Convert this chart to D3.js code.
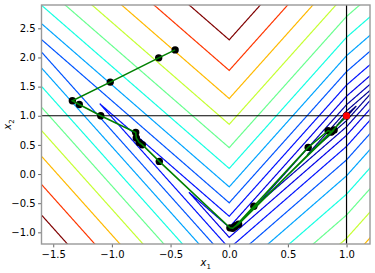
<!DOCTYPE html>
<html><head><meta charset="utf-8">
<script src="https://cdn.jsdelivr.net/npm/d3@7/dist/d3.min.js"></script>
<style>
html,body{margin:0;padding:0;background:#fff;}
svg{display:block;font-family:"DejaVu Sans",sans-serif;}
</style></head>
<body><svg id="chart" width="375" height="273"></svg>
<script>
// ---- data ----
const xTicks = [-1.5, -1.0, -0.5, 0.0, 0.5, 1.0];
const yTicks = [-1.0, -0.5, 0.0, 0.5, 1.0, 1.5, 2.0, 2.5];
const xDomain = [-1.6, 1.2];
const yDomain = [-1.2, 2.9];
// contour levels of f(x) = |1-x1|/4 + |x2 - 2|x1| + 1|
const levels = [0.021, 0.084, 0.189, 0.336, 0.526, 0.757, 1.030, 1.346, 1.703, 2.103, 2.545, 3.028, 3.553];
// optimisation iterates
const pathX = [-0.461, -0.601, -1.014, -1.337, -1.278, -1.095, -0.797, -0.792, -0.767, -0.741, -0.596, 0.006, 0.030, 0.060, 0.210, 0.673, 0.843, 0.872, 0.080, 0.050, 0.894, 0.870, 1.000];
const pathY = [2.130, 1.993, 1.577, 1.257, 1.194, 1.000, 0.714, 0.618, 0.543, 0.503, 0.217, -0.923, -0.930, -0.880, -0.553, 0.457, 0.743, 0.731, -0.860, -0.900, 0.755, 0.720, 1.000];
const minimizerX = [1.0];
const minimizerY = [1.0];
const refX = [1.0];
const refY = [1.0];

function f(x1, x2) { return Math.abs(1 - x1) / 4 + Math.abs(x2 - 2 * Math.abs(x1) + 1); }

// ---- layout ----
const L = 41.5, R = 370, T = 5, B = 244;
const svg = d3.select("#chart");
const x = d3.scaleLinear().domain(xDomain).range([L, R]);
const y = d3.scaleLinear().domain(yDomain).range([B, T]);

// jet colormap (matplotlib segments)
const jr = d3.scaleLinear().domain([0, 0.35, 0.66, 0.89, 1]).range([0, 0, 1, 1, 0.5]).clamp(true);
const jg = d3.scaleLinear().domain([0, 0.125, 0.375, 0.64, 0.91, 1]).range([0, 0, 1, 1, 0, 0]).clamp(true);
const jb = d3.scaleLinear().domain([0, 0.11, 0.34, 0.65, 1]).range([0.5, 1, 1, 0, 0]).clamp(true);
const norm = d3.scaleLinear().domain([levels[0], levels[levels.length - 1]]).range([0, 1]);
const jet = v => { const t = norm(v); return d3.rgb(jr(t) * 255, jg(t) * 255, jb(t) * 255).toString(); };

svg.append("defs").append("clipPath").attr("id", "clip")
  .append("rect").attr("x", L).attr("y", T).attr("width", R - L).attr("height", B - T);

// grid (extended beyond the view so borders fall outside the clip)
const step = 0.004;
const gx0 = xDomain[0] - 0.2, gx1 = xDomain[1] + 0.2;
const gyTop = yDomain[1] + 0.2, gyBot = yDomain[0] - 0.2;
const nx = Math.round((gx1 - gx0) / step) + 1;
const ny = Math.round((gyTop - gyBot) / step) + 1;
const values = new Float64Array(nx * ny);
for (let j = 0; j < ny; j++) {
  const yy = gyTop - j * step;
  for (let i = 0; i < nx; i++) values[j * nx + i] = f(gx0 + i * step, yy);
}
const contours = d3.contours().size([nx, ny]).thresholds(levels)(values);
const proj = d3.geoTransform({
  point(px, py) { this.stream.point(x(gx0 + (px - 0.5) * step), y(gyTop - (py - 0.5) * step)); }
});
const gpath = d3.geoPath(proj);

const plot = svg.append("g").attr("clip-path", "url(#clip)");
plot.selectAll("path.c").data(contours).join("path").attr("class", "c")
  .attr("d", gpath).attr("fill", "none")
  .attr("stroke", d => jet(d.value)).attr("stroke-width", 1.2);

// reference lines
plot.selectAll("line.rx").data(refX).join("line").attr("class", "rx")
  .attr("x1", d => x(d)).attr("x2", d => x(d)).attr("y1", T).attr("y2", B)
  .attr("stroke", "#000").attr("stroke-width", 1.2);
plot.selectAll("line.ry").data(refY).join("line").attr("class", "ry")
  .attr("x1", L).attr("x2", R).attr("y1", d => y(d)).attr("y2", d => y(d))
  .attr("stroke", "#000").attr("stroke-width", 1.2);

// path
const pts = pathX.map((v, i) => [v, pathY[i]]);
plot.selectAll("circle.m").data(pts).join("circle").attr("class", "m")
  .attr("cx", d => x(d[0])).attr("cy", d => y(d[1])).attr("r", 3.7).attr("fill", "#000");
plot.append("path").datum(pts)
  .attr("d", d3.line().x(d => x(d[0])).y(d => y(d[1])))
  .attr("fill", "none").attr("stroke", "#008000").attr("stroke-width", 1.6);
plot.selectAll("circle.min").data(minimizerX.map((v, i) => [v, minimizerY[i]])).join("circle").attr("class", "min")
  .attr("cx", d => x(d[0])).attr("cy", d => y(d[1])).attr("r", 3.6).attr("fill", "#ff0000");

// axes
const fmt = d3.format(".1f");
const xa = svg.append("g").attr("transform", `translate(0,${B})`)
  .call(d3.axisBottom(x).tickValues(xTicks).tickFormat(fmt).tickSize(3.4).tickSizeOuter(0).tickPadding(3));
const ya = svg.append("g").attr("transform", `translate(${L},0)`)
  .call(d3.axisLeft(y).tickValues(yTicks).tickFormat(fmt).tickSize(3.4).tickSizeOuter(0).tickPadding(2.5));
[xa, ya].forEach(a => {
  a.select(".domain").remove();
  a.selectAll(".tick line").attr("stroke", "#555").attr("stroke-width", 0.9);
  a.selectAll(".tick text").attr("fill", "#000").style("font-size", "10px").style("font-family", "DejaVu Sans");
});

svg.append("rect").attr("x", L).attr("y", T).attr("width", R - L).attr("height", B - T)
  .attr("fill", "none").attr("stroke", "#999").attr("stroke-width", 1.4);

// axis labels
const xl = svg.append("text").attr("x", (L + R) / 2).attr("y", 266).attr("text-anchor", "middle")
  .style("font-size", "10px");
xl.append("tspan").text("x").style("font-style", "italic");
xl.append("tspan").text("1").attr("dy", 2.5).style("font-size", "7px");
const yl = svg.append("text").attr("transform", `translate(11,${(T + B) / 2}) rotate(-90)`)
  .attr("text-anchor", "middle").style("font-size", "10px");
yl.append("tspan").text("x").style("font-style", "italic");
yl.append("tspan").text("2").attr("dy", 2.5).style("font-size", "7px");
</script></body></html>
